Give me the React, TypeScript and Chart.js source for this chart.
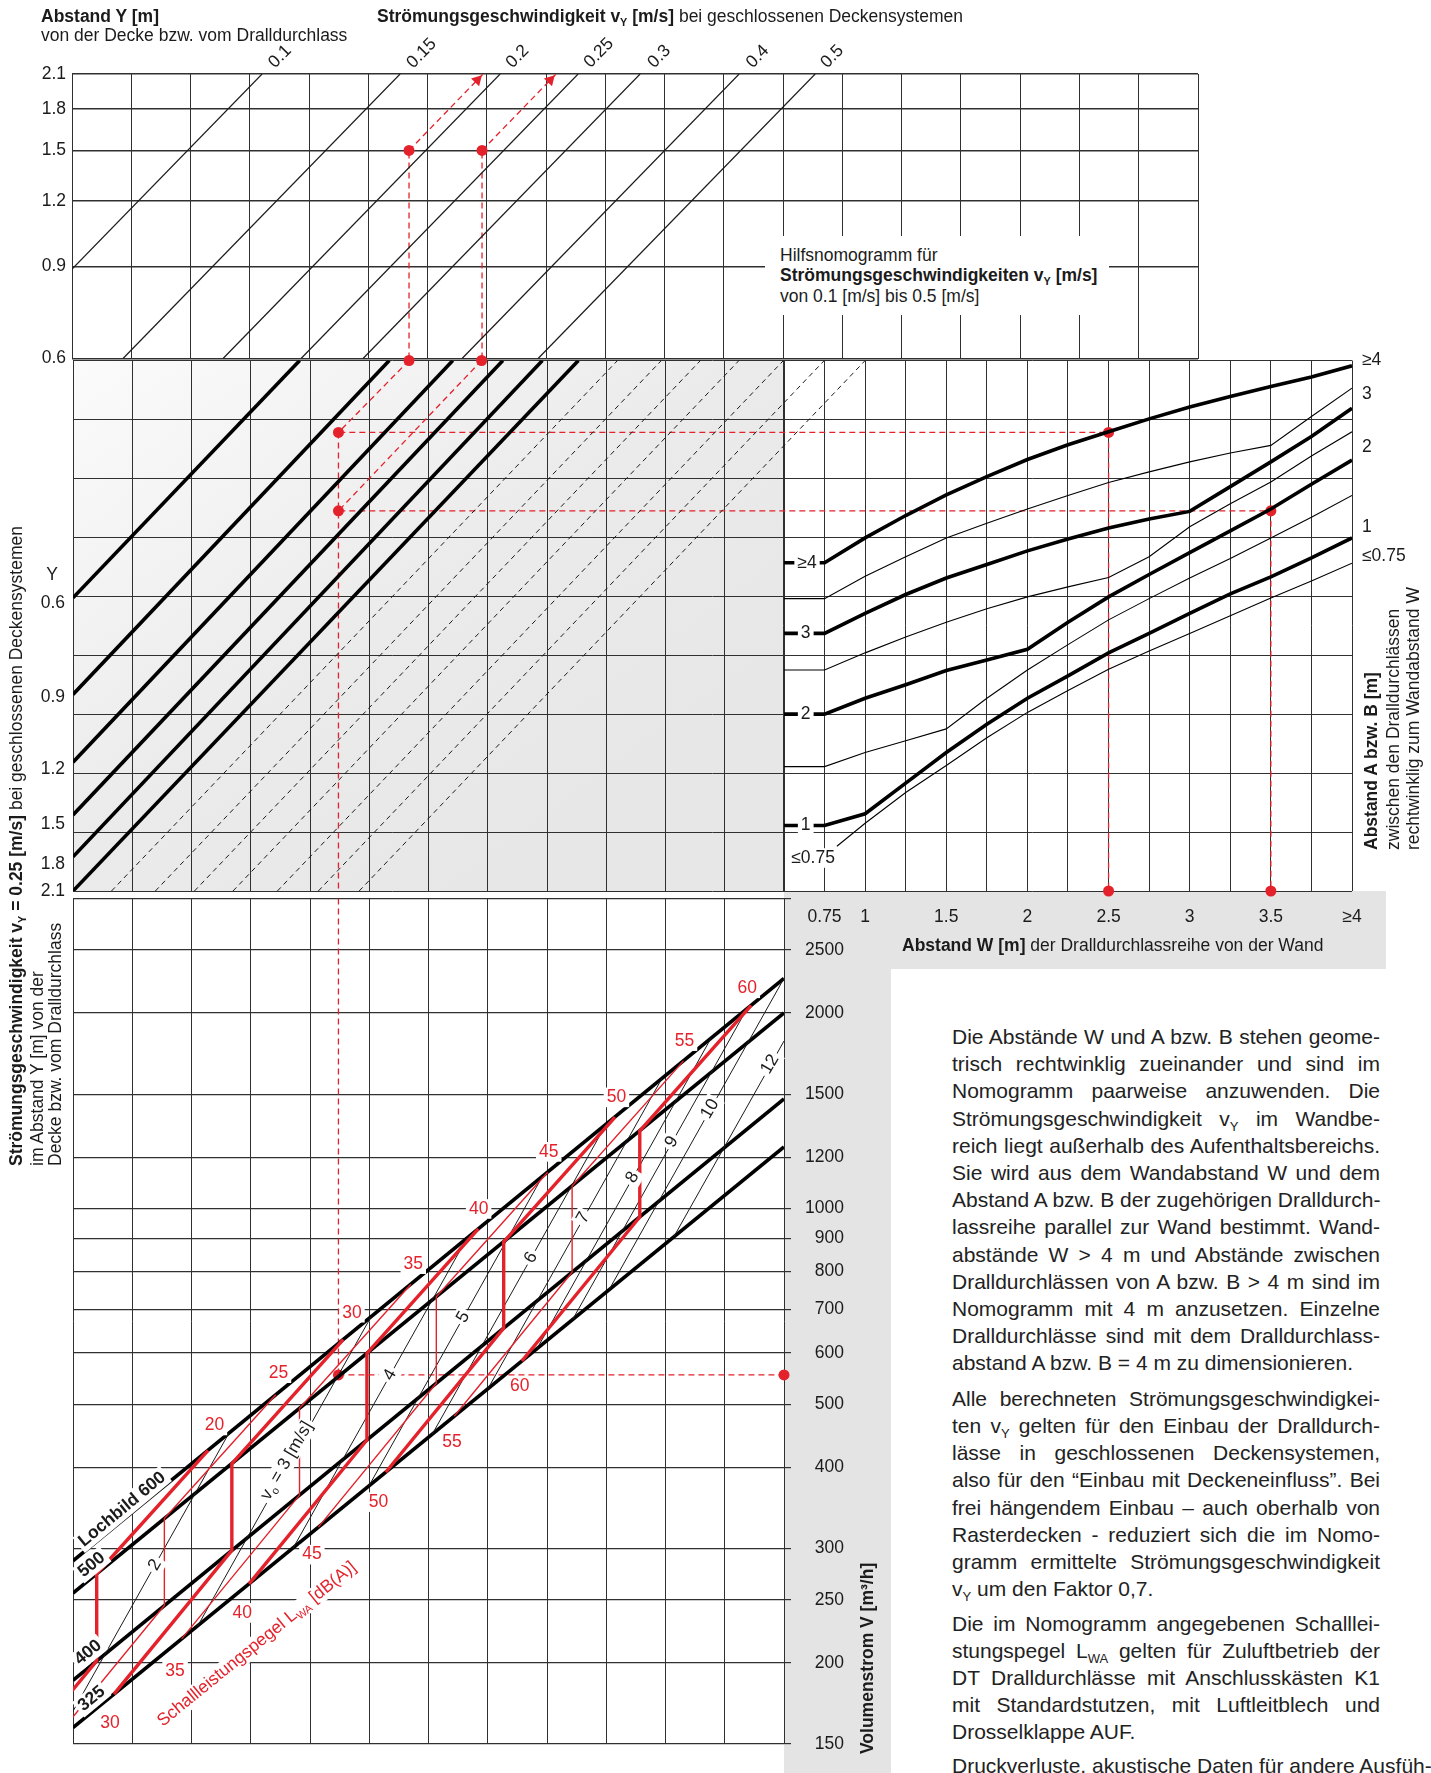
import React, { useEffect, useRef } from 'react';
import { Chart, registerables } from 'chart.js';

Chart.register(...registerables);

const FONT = '"Liberation Sans", Arial, Helvetica, sans-serif';
const FS = 17.5;
const INK = '#1b1b1b';
const GRID = '#303030';
const RED = '#e4222b';
const GRAY = '#e4e4e4';

// ===== Top panel "Hilfsnomogramm": x = grid columns, y = distance Y [m] (log) =====
const TOP_Y_TICKS = [0.6, 0.9, 1.2, 1.5, 1.8, 2.1];
const TOP_COLUMNS = 19;
const VY_NAMES = ['0.1', '0.15', '0.2', '0.25', '0.3', '0.4', '0.5'];
const VY_X_AT_06 = [-1.468, 0.861, 2.549, 3.865, 4.911, 6.582, 7.865];
const VY_X_AT_21 = [3.207, 5.536, 7.224, 8.54, 9.586, 11.257, 12.54];
const VY_LABEL_X = [3.51, 5.9, 7.52, 8.89, 9.91, 11.57, 12.83];
const VY_LABEL_Y = [2.266, 2.3, 2.266, 2.303, 2.266, 2.266, 2.266];
const TOP_EX_X = [5.687, 6.919];
const TOP_EX_Y = 1.5;
const TOP_EX_ARROW_X = [6.937, 8.169];
const TOP_EX_HEAD_X = [6.84, 8.07];
const TOP_EX_HEAD_Y = 2.045;

// ===== Middle band: left = vY 0.25 lines, right = A/B vs W =====
const MID_COLUMNS = 12;
const MID_ROWS = 9;
const MID_Y_NAMES = ['0.6', '0.9', '1.2', '1.5', '1.8', '2.1'];
const MID_Y_LEFT_ROW = [4.027, 5.666, 6.814, 7.709, 8.419, 9.0];
const MID_Y_LABEL_ROW = [4.12, 5.716, 6.926, 7.86, 8.55, 9.0];
const MID_THICK_TOP_COL = [3.826, 5.338, 6.41, 7.255, 7.922, 8.53];
const MID_DASH_BOTTOM_COL = [0.65, 1.39, 2.05, 2.7, 3.45, 4.14, 4.83];
const MID_DASH_TOP_COL = [9.19, 9.93, 10.59, 11.24, 11.99, 12.68, 13.37];

const W_TICKS = [0.5, 0.75, 1, 1.25, 1.5, 1.75, 2, 2.25, 2.5, 2.75, 3, 3.25, 3.5, 3.75, 4];
const W_TICK_NAMES = ['', '0.75', '1', '', '1.5', '', '2', '', '2.5', '', '3', '', '3.5', '', '≥4'];
const W_PTS = [0.5, 0.75, 1, 1.25, 1.5, 1.75, 2, 2.25, 2.5, 2.75, 3, 3.25, 3.5, 3.75, 4];
const AB_GE4 = [3.43, 3.43, 3.01, 2.63, 2.28, 1.97, 1.68, 1.43, 1.21, 0.99, 0.79, 0.61, 0.44, 0.28, 0.09];
const AB_35 = [4.04, 4.04, 3.66, 3.33, 3.01, 2.76, 2.52, 2.29, 2.07, 1.89, 1.72, 1.57, 1.44, 0.95, 0.47];
const AB_3 = [4.63, 4.63, 4.29, 3.97, 3.69, 3.46, 3.23, 3.03, 2.84, 2.69, 2.56, 2.14, 1.72, 1.29, 0.81];
const AB_25 = [5.25, 5.25, 4.96, 4.69, 4.44, 4.21, 4.01, 3.84, 3.68, 3.33, 2.82, 2.43, 2.06, 1.62, 1.21];
const AB_2 = [6.0, 6.0, 5.73, 5.5, 5.26, 5.08, 4.9, 4.44, 4.01, 3.63, 3.26, 2.89, 2.52, 2.1, 1.69];
const AB_15 = [6.89, 6.89, 6.65, 6.45, 6.25, 5.73, 5.25, 4.82, 4.4, 4.04, 3.69, 3.36, 3.01, 2.66, 2.29];
const AB_1 = [7.89, 7.89, 7.69, 7.17, 6.65, 6.17, 5.73, 5.35, 4.96, 4.63, 4.29, 3.96, 3.67, 3.35, 3.01];
const W_PTS_LE075 = [0.826, 1, 1.25, 1.5, 1.75, 2, 2.25, 2.5, 2.75, 3, 3.25, 3.5, 3.75, 4];
const AB_LE075 = [8.24, 7.85, 7.33, 6.87, 6.4, 5.97, 5.6, 5.24, 4.93, 4.63, 4.33, 4.03, 3.74, 3.44];
const AB_LEFT_NAMES = ['≥4', '3', '2', '1', '≤0.75'];
const AB_LEFT_W = [0.642, 0.634, 0.634, 0.634, 0.679];
const AB_LEFT_ROW = [3.43, 4.63, 6.0, 7.89, 8.44];
const AB_RIGHT_NAMES = ['≥4', '3', '2', '1', '≤0.75'];
const AB_RIGHT_ROW = [0.0, 0.574, 1.476, 2.824, 3.313];

// worked example (red)
const EX_TOP_COLS = [5.671, 6.896];
const EX_COL = 4.48;
const EX_ROWS = [1.22, 2.55];
const EX_W = [2.5, 3.5];
const EX_W_START = -2.24;

// ===== Bottom panel: x = grid columns, y = Volumenstrom [m³/h] (log) =====
const V_TICKS = [150, 200, 250, 300, 400, 500, 600, 700, 800, 900, 1000, 1200, 1500, 2000, 2500, 3000];
const LOCH_V_LEFT = [287, 256, 188, 159];
const LOCH_V_RIGHT = [2260, 2000, 1475, 1244];
const LOCH_TEXT = ['Lochbild 600', '500', '400', '325'];
const LOCH_LABEL_COL = [0.83, 0.316, 0.258, 0.316];
const LOCH_LABEL_V = [344.5, 283, 207.4, 176.1];

const LWA_LEVELS = [20, 25, 30, 35, 40, 45, 50, 55, 60];
const LWA_COL_LOW = [-1.59, -0.448, 0.691, 1.833, 2.971, 4.142, 5.279, 6.434, 7.576];
const LWA_COL_STEP = [0.4, 1.542, 2.681, 3.823, 4.961, 6.132, 7.269, 8.424, 9.566];
const LWA_COL_HIGH = [2.28, 3.422, 4.561, 5.703, 6.841, 8.012, 9.149, 10.304, 11.446];
const LWA_V_LOW = [121.1, 147.3, 179.0, 217.7, 264.6, 323.5, 392.9, 479.1, 582.6];
const LWA_V_STEP_BOTTOM = [201.4, 245.0, 297.9, 362.3, 440.5, 538.5, 654.7, 798.0, 970.6];
const LWA_V_STEP_TOP = [274.2, 333.4, 405.1, 492.7, 598.6, 731.3, 889.0, 1083.1, 1317.2];
const LWA_V_HIGH = [424.6, 516.9, 628.6, 765.0, 930.3, 1137.6, 1383.2, 1687.5, 2054.0];
const LWA_UPPER_LABEL_COL = [2.387, 3.468, 4.708, 5.743, 6.846, 8.029, 9.172, 10.321, 11.38];
const LWA_UPPER_LABEL_V = [463.7, 558, 691.4, 821.1, 998.6, 1222.5, 1483, 1809.9, 2182.5];
const LWA_LOWER_LEVELS = [30, 35, 40, 45, 50, 55, 60];
const LWA_LOWER_LABEL_COL = [0.625, 1.723, 2.855, 4.032, 5.157, 6.397, 7.539];
const LWA_LOWER_LABEL_V = [161.5, 194.5, 238.7, 293.4, 353.4, 436.3, 532.5];

const V0_NAMES = ['2', '3', '4', '5', '6', '7', '8', '9', '10', '12'];
const V0_COL_START = [-0.294, 2.103, 3.716, 4.992, 6.064, 7.002, 7.831, 8.434, 9.049, 10.142];
const V0_V_START = [150.9, 227.7, 300.4, 374.0, 449.6, 528.0, 608.7, 675.2, 750.5, 905.3];
const V0_COL_END = [2.63, 5.032, 6.65, 7.927, 9.003, 9.944, 10.775, 11.38, 12.0, 12.0];
const V0_V_END = [450.9, 681.9, 900.9, 1122.5, 1350.6, 1588, 1832.9, 2033.7, 2261, 1810.5];
const V0_LABEL_COL = [1.384, 3.607, 5.35, 6.587, 7.73, 8.613, 9.443, 10.105, 10.751, 11.764];
const V0_LABEL_V = [283.0, 409.2, 554.7, 680.9, 840.8, 967.5, 1116.5, 1266.2, 1423.7, 1667.6];
const EX_V = 554.7;

// ===== text column =====
const PARA_1 = [
  'Die Abstände W und A bzw. B stehen geome-',
  'trisch rechtwinklig zueinander und sind im',
  'Nomogramm paarweise anzuwenden. Die',
  'Strömungsgeschwindigkeit v_Y im Wandbe-',
  'reich liegt außerhalb des Aufenthaltsbereichs.',
  'Sie wird aus dem Wandabstand W und dem',
  'Abstand A bzw. B der zugehörigen Dralldurch-',
  'lassreihe parallel zur Wand bestimmt. Wand-',
  'abstände W > 4 m und Abstände zwischen',
  'Dralldurchlässen von A bzw. B > 4 m sind im',
  'Nomogramm mit 4 m anzusetzen. Einzelne',
  'Dralldurchlässe sind mit dem Dralldurchlass-',
  'abstand A bzw. B = 4 m zu dimensionieren.',
];
const PARA_2 = [
  'Alle berechneten Strömungsgeschwindigkei-',
  'ten v_Y gelten für den Einbau der Dralldurch-',
  'lässe in geschlossenen Deckensystemen,',
  'also für den “Einbau mit Deckeneinfluss”. Bei',
  'frei hängendem Einbau – auch oberhalb von',
  'Rasterdecken - reduziert sich die im Nomo-',
  'gramm ermittelte Strömungsgeschwindigkeit',
  'v_Y um den Faktor 0,7.',
];
const PARA_3 = [
  'Die im Nomogramm angegebenen Schalllei-',
  'stungspegel L_WA gelten für Zuluftbetrieb der',
  'DT Dralldurchlässe mit Anschlusskästen K1',
  'mit Standardstutzen, mit Luftleitblech und',
  'Drosselklappe AUF.',
];
const PARA_4 = ['Druckverluste, akustische Daten für andere Ausfüh-'];
const PARAS = [PARA_1, PARA_2, PARA_3, PARA_4];
const PARA_FIRST_Y = [1036.6, 1398.2, 1623.2, 1765.5];
const PARA_STEP = [27.2, 27.26, 27.05, 27.2];

// ---------------- helpers ----------------
const range = (a: number, b: number, s = 1) => {
  const r: number[] = [];
  for (let v = a; v <= b + 1e-9; v += s) r.push(+v.toFixed(4));
  return r;
};

const seg = (pts: number[][], color: string, width: number, extra: any = {}) => ({
  type: 'line',
  data: pts.map(([x, y]) => ({ x, y })),
  borderColor: color,
  borderWidth: width,
  pointRadius: 0,
  fill: false,
  tension: 0,
  ...extra,
});

const dots = (pts: number[][], extra: any = {}) => ({
  type: 'line',
  data: pts.map(([x, y]) => ({ x, y })),
  showLine: false,
  pointRadius: 5.5,
  pointBackgroundColor: RED,
  pointBorderColor: RED,
  pointBorderWidth: 0,
  clip: false,
  ...extra,
});

type Part = { t: string; sub?: boolean; bold?: boolean };
type Lbl = {
  x: number; y: number; parts: Part[] | string; xs?: string; ys?: string; rot?: number;
  color?: string; size?: number; bold?: boolean; bg?: boolean; align?: 'left' | 'center' | 'right';
};

const labelPlugin = (labels: Lbl[]) => ({
  id: 'textLabels',
  afterDraw(chart: any) {
    const ctx = chart.ctx;
    for (const L of labels) {
      const xs = chart.scales[L.xs || 'x'];
      const ys = chart.scales[L.ys || 'y'];
      const px = xs.getPixelForValue(L.x);
      const py = ys.getPixelForValue(L.y);
      const size = L.size || FS;
      const parts: Part[] = typeof L.parts === 'string' ? [{ t: L.parts }] : L.parts;
      const fontOf = (p: Part) => `${p.bold || L.bold ? 'bold ' : ''}${p.sub ? size * 0.62 : size}px ${FONT}`;
      ctx.save();
      ctx.translate(px, py);
      ctx.rotate(((L.rot || 0) * Math.PI) / 180);
      let w = 0;
      const widths = parts.map((p) => {
        ctx.font = fontOf(p);
        const m = ctx.measureText(p.t).width;
        w += m;
        return m;
      });
      let x0 = L.align === 'left' ? 0 : L.align === 'right' ? -w : -w / 2;
      if (L.bg) {
        ctx.fillStyle = '#ffffff';
        ctx.fillRect(x0 - 3, -size * 0.56, w + 6, size * 1.12);
      }
      ctx.fillStyle = L.color || INK;
      ctx.textBaseline = 'middle';
      ctx.textAlign = 'left';
      parts.forEach((p, i) => {
        ctx.font = fontOf(p);
        ctx.fillText(p.t, x0, p.sub ? size * 0.32 : 0);
        x0 += widths[i];
      });
      ctx.restore();
    }
  },
});

const gridAxis = (axis: 'x' | 'y', position: string, min: number, max: number, ticks: number[], extra: any = {}) => ({
  type: 'linear',
  axis,
  position,
  min,
  max,
  afterBuildTicks: (s: any) => {
    s.ticks = ticks.map((v) => ({ value: v }));
  },
  ticks: { display: false },
  grid: { color: GRID, lineWidth: 1, drawTicks: false },
  border: { display: false },
  afterFit: (s: any) => {
    if (axis === 'x') s.height = 0;
    else s.width = 0;
  },
  ...extra,
});

const labelAxis = (axis: 'x' | 'y', position: string, min: number, max: number, values: number[], names: string[], padding: number, size: number, extra: any = {}) => ({
  type: 'linear',
  axis,
  position,
  min,
  max,
  afterBuildTicks: (s: any) => {
    s.ticks = values.map((v) => ({ value: v }));
  },
  ticks: {
    callback: (_v: any, i: number) => names[i],
    font: { family: FONT, size: FS },
    color: INK,
    padding,
    autoSkip: false,
    maxRotation: 0,
    minRotation: 0,
  },
  grid: { display: false, drawTicks: false },
  border: { display: false },
  afterFit: (s: any) => {
    if (axis === 'x') s.height = size;
    else s.width = size;
  },
  ...extra,
});

const baseOptions = (padding: any, scales: any) => ({
  responsive: false,
  animation: false,
  events: [],
  layout: { padding, autoPadding: false },
  plugins: { legend: { display: false }, tooltip: { enabled: false } },
  scales,
});

// ---------------- chart A: Hilfsnomogramm ----------------
const makeTop = () => {
  const datasets: any[] = [];
  VY_NAMES.forEach((_n, i) => {
    datasets.push(seg([[VY_X_AT_06[i], 0.6], [VY_X_AT_21[i], 2.1]], INK, 1.2));
  });
  TOP_EX_X.forEach((x, i) => {
    datasets.push(seg([[x, 0.6], [x, TOP_EX_Y]], RED, 1.3, { borderDash: [6, 4] }));
    datasets.push(seg([[x, TOP_EX_Y], [TOP_EX_ARROW_X[i], 2.1]], RED, 1.3, { borderDash: [6, 4] }));
  });
  datasets.push(dots(TOP_EX_X.map((x) => [x, TOP_EX_Y])));
  datasets.push(
    dots(TOP_EX_HEAD_X.map((x) => [x, TOP_EX_HEAD_Y]), { pointStyle: 'triangle', pointRadius: 6.5, rotation: 44 })
  );
  const labels: Lbl[] = VY_NAMES.map((n, i) => ({ x: VY_LABEL_X[i], y: VY_LABEL_Y[i], parts: n, rot: -45.7 }));
  return {
    type: 'line',
    data: { datasets },
    options: baseOptions(
      { top: 74, left: 0, right: 17, bottom: 16.4 },
      {
        x: gridAxis('x', 'bottom', 0, TOP_COLUMNS, range(0, TOP_COLUMNS)),
        y: {
          type: 'logarithmic',
          position: 'left',
          min: 0.6,
          max: 2.1,
          afterBuildTicks: (s: any) => {
            s.ticks = TOP_Y_TICKS.map((v) => ({ value: v }));
          },
          ticks: {
            callback: (v: any) => Number(v).toFixed(1),
            font: { family: FONT, size: FS },
            color: INK,
            padding: 6,
            autoSkip: false,
          },
          grid: { color: GRID, lineWidth: 1.4, drawTicks: false },
          border: { display: false },
          afterFit: (s: any) => {
            s.width = 72;
          },
        },
      }
    ),
    plugins: [labelPlugin(labels)],
  };
};

// ---------------- chart B: middle band ----------------
const midBackground = {
  id: 'midBackground',
  beforeDraw(chart: any) {
    const { ctx } = chart;
    const xl = chart.scales.xl;
    const y = chart.scales.y;
    const x0 = xl.getPixelForValue(0);
    const x1 = xl.getPixelForValue(MID_COLUMNS);
    const y0 = y.getPixelForValue(0);
    const y1 = y.getPixelForValue(MID_ROWS);
    const g = ctx.createLinearGradient(x0, y0, x0 + (x1 - x0) * 0.55, y1);
    g.addColorStop(0, '#fbfbfb');
    g.addColorStop(0.6, '#ebebeb');
    g.addColorStop(1, '#e7e7e7');
    ctx.save();
    ctx.fillStyle = g;
    ctx.fillRect(x0, y0, x1 - x0, y1 - y0);
    ctx.restore();
  },
};

const makeMid = () => {
  const L = { xAxisID: 'xl', yAxisID: 'y' };
  const R = { xAxisID: 'xr', yAxisID: 'y' };
  const datasets: any[] = [];
  MID_DASH_BOTTOM_COL.forEach((b, i) => {
    datasets.push(seg([[b, MID_ROWS], [MID_DASH_TOP_COL[i], 0]], INK, 1, { ...L, borderDash: [5, 4] }));
  });
  MID_Y_LEFT_ROW.forEach((r, i) => {
    datasets.push(seg([[0, r], [MID_THICK_TOP_COL[i], 0]], '#000', 3.6, L));
  });
  const curves = [AB_GE4, AB_35, AB_3, AB_25, AB_2, AB_15, AB_1];
  curves.forEach((c, i) => {
    const thick = i % 2 === 0;
    datasets.push(seg(W_PTS.map((w, k) => [w, c[k]]), '#000', thick ? 3.6 : 1.1, R));
  });
  datasets.push(seg(W_PTS_LE075.map((w, k) => [w, AB_LE075[k]]), '#000', 1.1, R));
  EX_TOP_COLS.forEach((c, i) => {
    datasets.push(seg([[c, 0], [EX_COL, EX_ROWS[i]]], RED, 1.3, { ...L, borderDash: [6, 4] }));
  });
  datasets.push(seg([[EX_COL, EX_ROWS[0]], [EX_COL, MID_ROWS]], RED, 1.3, { ...L, borderDash: [6, 4] }));
  EX_ROWS.forEach((r, i) => {
    datasets.push(seg([[EX_W_START, r], [EX_W[i], r]], RED, 1.3, { ...R, borderDash: [6, 4] }));
    datasets.push(seg([[EX_W[i], r], [EX_W[i], MID_ROWS]], RED, 1.3, { ...R, borderDash: [6, 4] }));
  });
  datasets.push(dots([...EX_TOP_COLS.map((c) => [c, 0]), ...EX_ROWS.map((r) => [EX_COL, r])], L));
  datasets.push(dots([...EX_W.map((w, i) => [w, EX_ROWS[i]]), ...EX_W.map((w) => [w, MID_ROWS])], R));

  const labels: Lbl[] = [
    { x: -0.354, y: 3.65, parts: 'Y', xs: 'xl', ys: 'y' },
    ...AB_LEFT_NAMES.map((n, i) => ({ x: AB_LEFT_W[i], y: AB_LEFT_ROW[i], parts: n, xs: 'xr', ys: 'y', bg: true })),
  ];

  return {
    type: 'line',
    data: { datasets },
    options: baseOptions(
      { top: 18.6, left: 0, right: 0, bottom: 0 },
      {
        xl: gridAxis('x', 'top', 0, 21.586, range(0, MID_COLUMNS)),
        xr: {
          type: 'linear',
          axis: 'x',
          position: 'bottom',
          min: -3.881,
          max: 4,
          afterBuildTicks: (s: any) => {
            s.ticks = W_TICKS.map((v) => ({ value: v }));
          },
          ticks: {
            callback: (_v: any, i: number) => W_TICK_NAMES[i],
            font: { family: FONT, size: FS },
            color: INK,
            padding: 16,
            autoSkip: false,
            maxRotation: 0,
            minRotation: 0,
          },
          grid: { color: GRID, lineWidth: 1, drawTicks: false },
          border: { display: false },
          afterFit: (s: any) => {
            s.height = 69;
          },
        },
        y: gridAxis('y', 'left', 0, MID_ROWS, range(0, MID_ROWS), { reverse: true }),
        yl: labelAxis('y', 'left', 0, MID_ROWS, MID_Y_LABEL_ROW, MID_Y_NAMES, 8, 73, { reverse: true }),
        yr: labelAxis('y', 'right', 0, MID_ROWS, AB_RIGHT_ROW, AB_RIGHT_NAMES, 10, 79, { reverse: true }),
      }
    ),
    plugins: [midBackground, labelPlugin(labels)],
  };
};

// ---------------- chart C: Volumenstrom ----------------
const makeBottom = () => {
  const datasets: any[] = [];
  LWA_LEVELS.forEach((lv, i) => {
    const thick = lv % 10 === 0;
    datasets.push(
      seg(
        [
          [LWA_COL_LOW[i], LWA_V_LOW[i]],
          [LWA_COL_STEP[i], LWA_V_STEP_BOTTOM[i]],
          [LWA_COL_STEP[i], LWA_V_STEP_TOP[i]],
          [LWA_COL_HIGH[i], LWA_V_HIGH[i]],
        ],
        RED,
        thick ? 3.4 : 1.4
      )
    );
  });
  V0_NAMES.forEach((_n, i) => {
    datasets.push(seg([[V0_COL_START[i], V0_V_START[i]], [V0_COL_END[i], V0_V_END[i]]], INK, 1));
  });
  LOCH_V_LEFT.forEach((v, i) => {
    datasets.push(seg([[0, v], [MID_COLUMNS, LOCH_V_RIGHT[i]]], '#000', 3.6));
  });
  datasets.push(seg([[EX_COL, 3000], [EX_COL, EX_V]], RED, 1.3, { borderDash: [6, 4] }));
  datasets.push(seg([[EX_COL, EX_V], [MID_COLUMNS, EX_V]], RED, 1.3, { borderDash: [6, 4] }));
  datasets.push(dots([[EX_COL, EX_V], [MID_COLUMNS, EX_V]]));

  const labels: Lbl[] = [];
  V0_NAMES.forEach((n, i) => {
    const parts: Part[] = n === '3' ? [{ t: 'v' }, { t: 'o', sub: true }, { t: ' = 3 [m/s]' }] : [{ t: n }];
    labels.push({ x: V0_LABEL_COL[i], y: V0_LABEL_V[i], parts, rot: -60, bg: true });
  });
  LOCH_TEXT.forEach((t, i) => {
    labels.push({ x: LOCH_LABEL_COL[i], y: LOCH_LABEL_V[i], parts: t, rot: -39.6, bold: true, bg: true });
  });
  LWA_LEVELS.forEach((lv, i) => {
    labels.push({ x: LWA_UPPER_LABEL_COL[i], y: LWA_UPPER_LABEL_V[i], parts: String(lv), color: RED, bg: true });
  });
  LWA_LOWER_LEVELS.forEach((lv, i) => {
    labels.push({ x: LWA_LOWER_LABEL_COL[i], y: LWA_LOWER_LABEL_V[i], parts: String(lv), color: RED, bg: true });
  });
  labels.push({
    x: 3.103,
    y: 213.6,
    parts: [{ t: 'Schallleistungspegel L' }, { t: 'WA', sub: true }, { t: ' [dB(A)]' }],
    color: RED,
    rot: -39.1,
    bg: true,
  });

  return {
    type: 'line',
    data: { datasets },
    options: baseOptions(
      { top: 11, left: 73, right: 56, bottom: 29 },
      {
        x: gridAxis('x', 'bottom', 0, MID_COLUMNS, range(0, MID_COLUMNS)),
        y: {
          type: 'logarithmic',
          position: 'right',
          min: 150,
          max: 3000,
          afterBuildTicks: (s: any) => {
            s.ticks = V_TICKS.map((v) => ({ value: v }));
          },
          ticks: {
            callback: (v: any) => (v === 3000 ? '' : String(v)),
            font: { family: FONT, size: FS },
            color: INK,
            padding: 8,
            crossAlign: 'far',
            autoSkip: false,
          },
          grid: { color: GRID, lineWidth: 1.2, drawTicks: true, tickLength: 7 },
          border: { display: false },
          afterFit: (s: any) => {
            s.width = 60;
          },
        },
      }
    ),
    plugins: [labelPlugin(labels)],
  };
};

// ---------------- React ----------------
function ChartBox({ left, top, width, height, make }: { left: number; top: number; width: number; height: number; make: () => any }) {
  const ref = useRef<HTMLCanvasElement>(null);
  useEffect(() => {
    const chart = new Chart(ref.current as HTMLCanvasElement, make());
    return () => chart.destroy();
  }, []);
  return <canvas ref={ref} width={width} height={height} style={{ position: 'absolute', left, top, width, height }} />;
}

function rich(s: string) {
  return s.split(/(_[A-Z]+)/).map((p, i) =>
    p.startsWith('_') ? (
      <span key={i} style={{ fontSize: '0.62em', position: 'relative', top: '0.38em' }}>
        {p.slice(1)}
      </span>
    ) : (
      <React.Fragment key={i}>{p}</React.Fragment>
    )
  );
}

const txt = (left: number, cy: number, extra: any = {}) => ({
  position: 'absolute' as const,
  left,
  top: cy - 10.5,
  fontSize: FS,
  lineHeight: '21px',
  whiteSpace: 'nowrap' as const,
  ...extra,
});

const rot = (cx: number, bottom: number, extra: any = {}) => ({
  position: 'absolute' as const,
  left: cx - 10.5,
  top: bottom,
  fontSize: FS,
  lineHeight: '21px',
  whiteSpace: 'nowrap' as const,
  transformOrigin: '0 0',
  transform: 'rotate(-90deg)',
  ...extra,
});

export default function App() {
  return (
    <div
      style={{
        position: 'absolute',
        left: 0,
        top: 0,
        width: 1431,
        height: 1773,
        overflow: 'hidden',
        background: '#fff',
        fontFamily: FONT,
        color: INK,
      }}
    >
      <div style={{ position: 'absolute', left: 784, top: 891, width: 107, height: 882, background: GRAY }} />
      <div style={{ position: 'absolute', left: 784, top: 891, width: 602, height: 78, background: GRAY }} />

      <ChartBox left={0} top={0} width={1215} height={375} make={makeTop} />
      <ChartBox left={0} top={340} width={1431} height={620} make={makeMid} />
      <ChartBox left={0} top={880} width={900} height={893} make={makeBottom} />

      {/* headings */}
      <div style={txt(41, 16, { fontWeight: 'bold' })}>Abstand Y [m]</div>
      <div style={txt(41, 35)}>von der Decke bzw. vom Dralldurchlass</div>
      <div style={txt(377, 16.5)}>
        <b>Strömungsgeschwindigkeit {rich('v_Y')} [m/s]</b> bei geschlossenen Deckensystemen
      </div>

      <div style={{ position: 'absolute', left: 765, top: 236, width: 344, height: 79, background: '#fff' }} />
      <div style={txt(780, 255)}>Hilfsnomogramm für</div>
      <div style={txt(780, 275, { fontWeight: 'bold' })}>Strömungsgeschwindigkeiten {rich('v_Y')} [m/s]</div>
      <div style={txt(780, 296)}>von 0.1 [m/s] bis 0.5 [m/s]</div>

      {/* rotated axis titles */}
      <div style={rot(16, 1166)}>
        <b>Strömungsgeschwindigkeit {rich('v_Y')} = 0.25 [m/s]</b> bei geschlossenen Deckensystemen
      </div>
      <div style={rot(37, 1166)}>im Abstand Y [m] von der</div>
      <div style={rot(55.5, 1166)}>Decke bzw. vom Dralldurchlass</div>

      <div style={rot(1371.5, 850, { fontWeight: 'bold' })}>Abstand A bzw. B [m]</div>
      <div style={rot(1393, 850)}>zwischen den Dralldurchlässen</div>
      <div style={rot(1413, 850)}>rechtwinklig zum Wandabstand W</div>

      <div style={rot(867, 1754, { fontWeight: 'bold' })}>Volumenstrom V [m³/h]</div>

      <div style={txt(902, 945.5)}>
        <b>Abstand W [m]</b> der Dralldurchlassreihe von der Wand
      </div>

      {/* explanatory text */}
      {PARAS.map((lines, pi) =>
        lines.map((line, li) => {
          const last = li === lines.length - 1 && pi < PARAS.length - 1;
          return (
            <div
              key={`${pi}-${li}`}
              style={{
                position: 'absolute',
                left: 952,
                width: 428,
                top: PARA_FIRST_Y[pi] + li * PARA_STEP[pi] - 13.6,
                height: 27.2,
                lineHeight: '27.2px',
                fontSize: 21,
                whiteSpace: 'nowrap',
                textAlign: last ? 'left' : 'justify',
                textAlignLast: last ? 'left' : 'justify',
                color: '#222',
              }}
            >
              {rich(line)}
            </div>
          );
        })
      )}
    </div>
  );
}
